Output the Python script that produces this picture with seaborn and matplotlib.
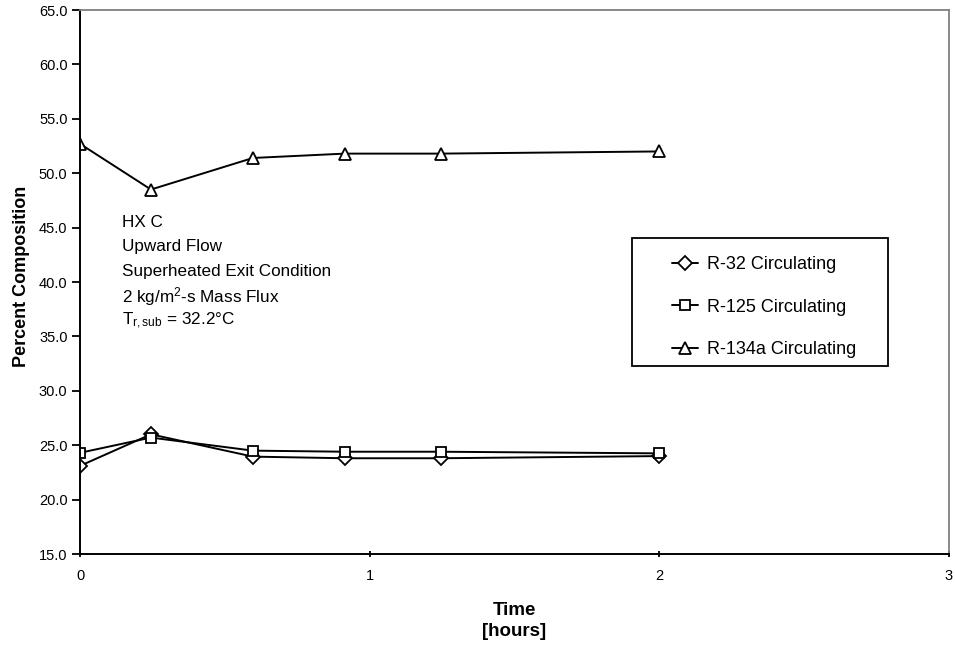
import matplotlib
matplotlib.use("Agg")
import matplotlib.pyplot as plt
from matplotlib.patches import Rectangle
import seaborn as sns
import pandas as pd

# hours
time_h = [0.0, 0.245, 0.597, 0.914, 1.245, 2.0]
r32 = [23.1, 26.0, 23.95, 23.8, 23.8, 24.0]
r125 = [24.3, 25.7, 24.5, 24.4, 24.4, 24.25]
r134a = [52.7, 48.5, 51.4, 51.8, 51.8, 52.0]

series_names = ["R-32 Circulating", "R-125 Circulating", "R-134a Circulating"]
series_markers = ["D", "s", "^"]
y_ticks = [15, 20, 25, 30, 35, 40, 45, 50, 55, 60, 65]
x_ticks = [0, 1, 2, 3]

notes = ["HX C", "Upward Flow", "Superheated Exit Condition",
         "2 kg/m$^2$-s Mass Flux", "T$_{r,sub}$ = 32.2°C"]

df = pd.DataFrame({
    "Time": time_h * 3,
    "Value": r32 + r125 + r134a,
    "Series": [s for s in series_names for _ in time_h],
})

sns.set_style("ticks")
plt.rcParams["font.family"] = ["Liberation Sans", "DejaVu Sans"]
plt.rcParams["text.color"] = "black"
plt.rcParams["axes.labelcolor"] = "black"
plt.rcParams["mathtext.fontset"] = "custom"
plt.rcParams["mathtext.rm"] = "Liberation Sans"
plt.rcParams["mathtext.it"] = "Liberation Sans"

fig = plt.figure(figsize=(9.55, 6.47), dpi=100)
ax = fig.add_axes([80 / 955, 1 - 554 / 647, 869 / 955, 544 / 647])

sizes = {"D": 7, "s": 7.5, "^": 8.5}
for name, mk in zip(series_names, series_markers):
    sub = df[df["Series"] == name]
    sns.lineplot(data=sub, x="Time", y="Value", ax=ax, color="black",
                 marker=mk, markersize=sizes[mk], markerfacecolor="white",
                 markeredgecolor="black", markeredgewidth=1.3,
                 linewidth=1.4, label=name, sort=False, estimator=None)

ax.set_xlim(0, 3)
ax.set_ylim(15, 65)
ax.set_xticks(x_ticks)
ax.set_yticks(y_ticks)
ax.set_yticklabels([f"{v:.1f}" for v in y_ticks])
ax.tick_params(axis="both", labelsize=10.5, colors="black", width=1.3)
ax.tick_params(axis="y", length=6, direction="out", pad=3)
ax.tick_params(axis="x", length=4, direction="inout", pad=9)
for side in ["left", "bottom"]:
    ax.spines[side].set_color("black")
    ax.spines[side].set_linewidth(1.4)
for side in ["top", "right"]:
    ax.spines[side].set_visible(True)
    ax.spines[side].set_color("gray")
    ax.spines[side].set_linewidth(1.3)

ax.set_xlabel("Time\n[hours]", fontsize=13.5, fontweight="bold", labelpad=13.5,
              linespacing=1.33)
ax.set_ylabel("Percent Composition", fontsize=13, fontweight="bold")
ax.yaxis.set_label_coords(-0.0575, 0.51)

for i, line in enumerate(notes):
    ax.text(0.145, 45.5 - i * 2.27, line, fontsize=12.3, va="center", ha="left")

# legend box drawn separately, entries placed inside it
box_l, box_b = (632 - 80) / 869, (554 - 366) / 544
box_w, box_h = 256 / 869, 128 / 544
ax.add_patch(Rectangle((box_l, box_b), box_w, box_h, transform=ax.transAxes,
                       facecolor="white", edgecolor="black", linewidth=1.3,
                       zorder=4))
leg = ax.legend(loc="upper left", bbox_to_anchor=((672 - 80) / 869, (554 - 256) / 544),
                bbox_transform=ax.transAxes, frameon=False,
                fontsize=13, handlelength=1.45, handletextpad=0.5,
                labelspacing=1.42, borderpad=0, borderaxespad=0)
leg.set_zorder(5)

fig.savefig("out.png", dpi=100, facecolor="white")
